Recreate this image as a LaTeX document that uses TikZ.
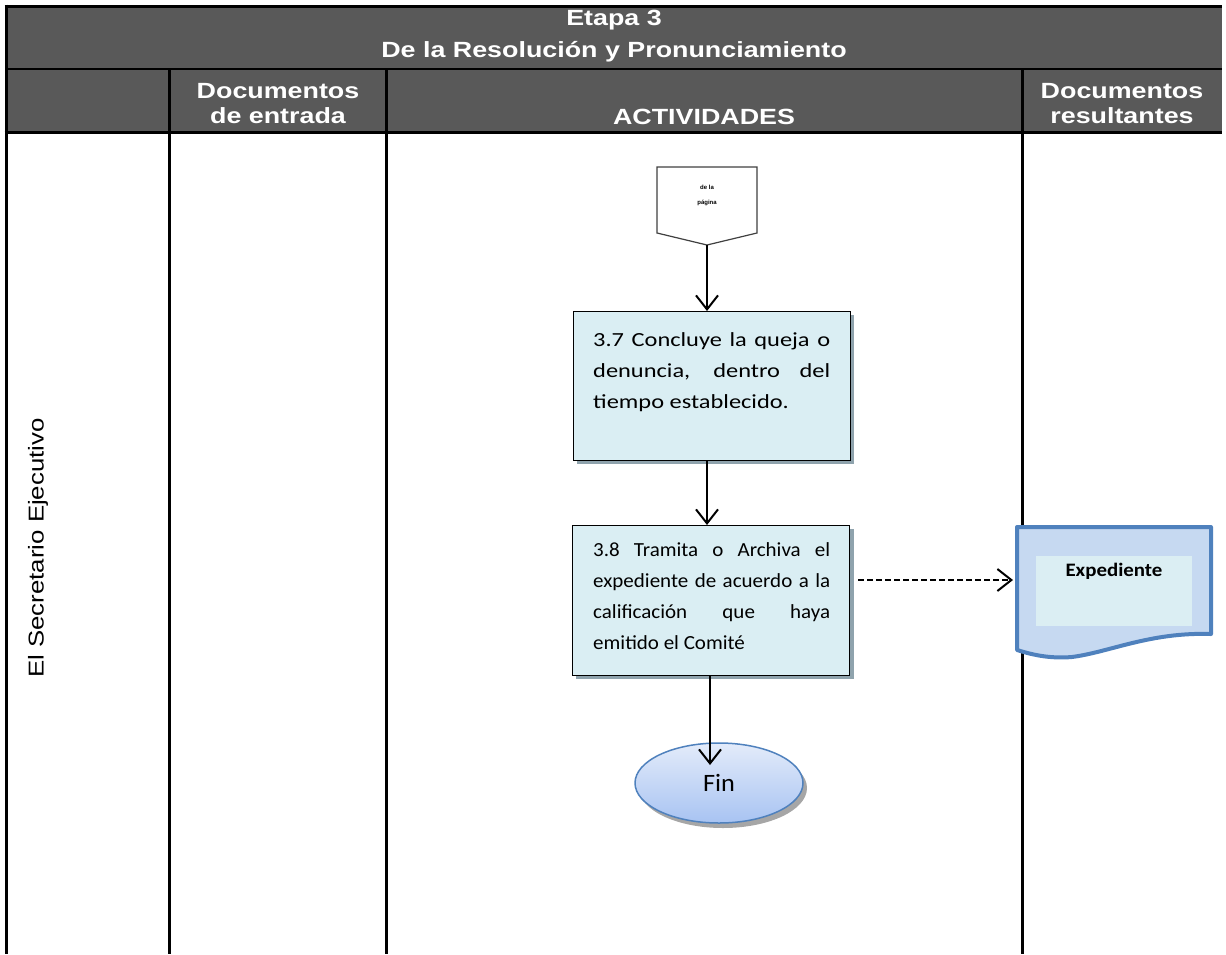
\documentclass[tikz,border=0pt]{standalone}
\usepackage{fontspec}
\setmainfont{Liberation Sans}
\newfontfamily\hdrfont[FakeStretch=1.22]{Liberation Sans}
\newfontfamily\lanefont[FakeStretch=1.2]{Liberation Sans}
\newfontfamily\boxfontA[FakeStretch=1.22]{Carlito}
\newfontfamily\boxfontB[FakeStretch=1.05]{Carlito}
\newfontfamily\docfont[FakeStretch=1.1]{Carlito}
\usetikzlibrary{arrows.meta,shapes.geometric}
\definecolor{hdrgray}{HTML}{595959}
\definecolor{actfill}{HTML}{DAEEF3}
\definecolor{shadowgray}{HTML}{8FA3AD}
\definecolor{docfill}{HTML}{C6D9F1}
\definecolor{docline}{HTML}{4F81BD}
\definecolor{docinner}{HTML}{DBEEF3}
\definecolor{fintop}{HTML}{E3EBFA}
\definecolor{finbot}{HTML}{A8C3F2}
\tikzset{
  hdrtext/.style={text=white, font=\hdrfont\bfseries\fontsize{22}{25}\selectfont, align=center, inner sep=0pt},
  gridline/.style={line width=3pt, black},
  actbox/.style={draw=black, line width=1pt, fill=actfill, minimum width=277pt, anchor=north west, inner sep=0pt},
  acttext/.style={text width=237pt, align=justify, anchor=north west, inner sep=0pt},
  flow/.style={line width=2pt, -{Straight Barb[length=14pt,width=22pt,line width=2pt]}},
  dflow/.style={flow, dash pattern=on 6pt off 3pt},
}
\begin{document}
\begin{tikzpicture}[x=1pt,y=-1pt]
\useasboundingbox (0,0) rectangle (1226,954);
% header band
\fill[hdrgray] (6,6) rectangle (1222,132);
\draw[gridline] (4.5,6) -- (1222,6);
\draw[line width=2pt] (6,69) -- (1222,69);
\draw[gridline] (4.5,132) -- (1222,132);
\draw[gridline] (6,4.5) -- (6,954);
\draw[gridline] (169,69) -- (169,954);
\draw[gridline] (386,69) -- (386,954);
\draw[gridline] (1022,69) -- (1022,954);
% header texts
\node[hdrtext] (etapa) at (614,20) {Etapa 3};
\node[hdrtext] (etapaname) at (614,52) {De la Resolución y Pronunciamiento};
\node[hdrtext] (docin) at (278,104) {Documentos\\de entrada};
\node[hdrtext] (act) at (704,117) {ACTIVIDADES};
\node[hdrtext] (docout) at (1122,104) {Documentos\\resultantes};
% lane label
\node[rotate=90, font=\lanefont\fontsize{21.5}{25}\selectfont, inner sep=0pt] (lane) at (38,548) {El Secretario Ejecutivo};
% off-page connector
\draw[line width=1.2pt, draw=black!75, fill=white] (657,167) -- (757,167) -- (757,233) -- (707,245) -- (657,233) -- cycle;
\coordinate (offp) at (707,245);
\node[font=\fontsize{6}{15}\selectfont\bfseries, align=center, inner sep=0pt] (offptext) at (707,195) {de la\\página};
% activity boxes with shadows
\fill[shadowgray] (577,315) rectangle (854,464);
\node[actbox, minimum height=149pt] (b37) at (573,311) {};
\node[acttext, font=\boxfontA\fontsize{20}{31}\selectfont] (t37) at (593,332) {3.7 Concluye la queja o\linebreak denuncia, dentro del\linebreak tiempo establecido.};
\fill[shadowgray] (576,529) rectangle (854,679);
\node[actbox, minimum height=150pt] (b38) at (572,525) {};
\node[acttext, font=\boxfontB\fontsize{20}{31}\selectfont] (t38) at (593,542) {3.8 Tramita o Archiva el\linebreak expediente de acuerdo a la\linebreak calificación que haya\linebreak emitido el Comité};
% output document
\draw[line width=4pt, draw=docline, fill=docfill, line join=round]
  (1017,527) -- (1211,527) -- (1211,634)
  .. controls (1150,632) and (1110,652) .. (1072,657)
  .. controls (1048,659) and (1030,654) .. (1017,650) -- cycle;
\coordinate (docentry) at (1013,580);
\fill[docinner] (1036,556) rectangle (1192,626);
\node[font=\docfont\bfseries\fontsize{19}{22}\selectfont, inner sep=0pt] (exp) at (1114,571) {Expediente};
% end terminator
\fill[gray!70] (723,788) ellipse [x radius=84, y radius=40];
\node[ellipse, draw=docline, line width=1.5pt, top color=fintop, bottom color=finbot,
  minimum width=168pt, minimum height=80pt, inner sep=0pt, font=\boxfontB\fontsize{25}{30}\selectfont] (fin) at (719,783) {Fin};
% connectors
\draw[flow] (offp) -- (offp |- b37.north);
\draw[flow] (b37.south -| offp) -- (b38.north -| offp);
\draw[flow] (b38.south -| 710,0) -- (710,765);
\draw[dflow] ([xshift=8pt]b38.east |- docentry) -- (docentry);
\end{tikzpicture}
\end{document}
